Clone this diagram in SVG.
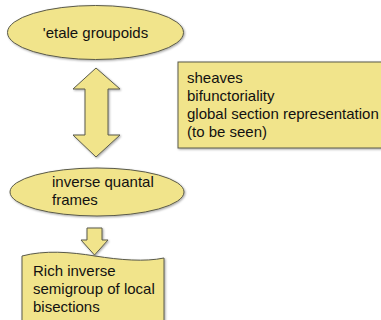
<svg xmlns="http://www.w3.org/2000/svg" width="381" height="320" viewBox="0 0 381 320">
<defs>
<filter id="sh" x="-10%" y="-10%" width="130%" height="130%">
<feDropShadow dx="1" dy="1" stdDeviation="0.8" flood-color="#000" flood-opacity="0.35"/>
</filter>
</defs>
<style>
.s{fill:#f1e48b;stroke:#5a5a4a;stroke-width:1;filter:url(#sh)}
text{font-family:"Liberation Sans",Arial,sans-serif;font-size:15px;fill:#111}
</style>
<rect width="381" height="320" fill="#fff"/>
<g id="etale">
<ellipse class="s" cx="95.5" cy="32.5" rx="88" ry="27"/>
<text x="95.5" y="38" text-anchor="middle">'etale groupoids</text>
</g>
<g id="notes">
<rect class="s" x="178" y="62" width="215" height="86"/>
<text x="187" y="83">sheaves</text>
<text x="187" y="101">bifunctoriality</text>
<text x="187" y="119">global section representation</text>
<text x="187" y="137">(to be seen)</text>
</g>
<g id="quantal">
<ellipse class="s" cx="97" cy="192" rx="87" ry="24"/>
<text x="52" y="187">inverse quantal</text>
<text x="52" y="205">frames</text>
</g>
<g id="rich">
<path class="s" d="M22,256 C45,250 70,252 95,256 C120,260 145,262 164,258 L164,330 L22,330 Z"/>
<text x="33" y="276">Rich inverse</text>
<text x="33" y="294">semigroup of local</text>
<text x="33" y="312">bisections</text>
</g>
<g id="connectors">
<path class="s" d="M96,68 L120,89 L108,89 L108,135 L120,135 L96,157 L73,135 L85,135 L85,89 L73,89 Z"/>
<path class="s" d="M87,228 L102,228 L102,240 L108,240 L94.5,255 L81,240 L87,240 Z"/>
</g>
</svg>
